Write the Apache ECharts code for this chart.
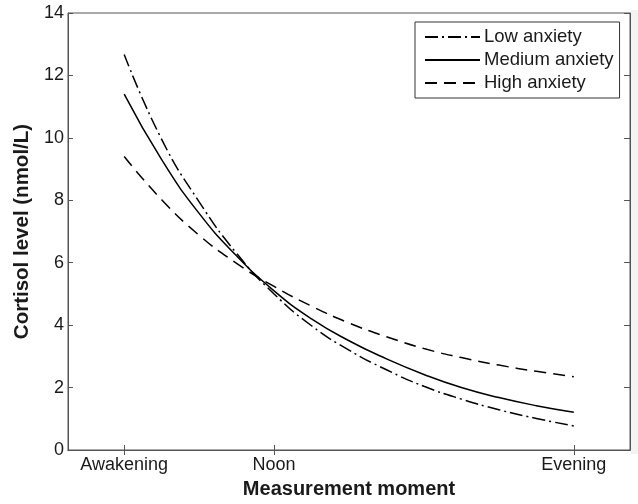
<!DOCTYPE html>
<html>
<head>
<meta charset="utf-8">
<script src="https://cdn.jsdelivr.net/npm/echarts@6/dist/echarts.min.js"></script>
<style>
  html, body { margin: 0; padding: 0; background: #fff; }
  #chart { width: 638px; height: 504px; }
</style>
</head>
<body>
<div id="chart"></div>
<script>
(function() {
  var myChart = echarts.init(document.getElementById('chart'));

  // hours of the day, awakening = 8, noon = 12, evening = 20
  var hours = [8, 9, 10, 11, 12, 13, 14, 15, 16, 17, 18, 19, 20];
  var lowAnxiety    = [12.67, 9.95, 7.95, 6.30, 5.00, 3.98, 3.20, 2.57, 2.04, 1.63, 1.29, 1.01, 0.77];
  var mediumAnxiety = [11.40, 9.30, 7.58, 6.22, 5.10, 4.20, 3.50, 2.92, 2.42, 2.00, 1.68, 1.42, 1.21];
  var highAnxiety   = [9.40, 8.02, 6.88, 5.98, 5.24, 4.61, 4.07, 3.63, 3.25, 2.96, 2.72, 2.52, 2.35];

  var xTickValues = [8, 12, 20];
  var xTickLabels = ['Awakening', 'Noon', 'Evening'];
  var yTicks = [0, 2, 4, 6, 8, 10, 12, 14];

  function pairs(vals) {
    return hours.map(function(h, i) { return [h, vals[i]]; });
  }

  var axisColor = '#555';
  var textColor = '#1a1a1a';
  var font = 'Liberation Sans, Arial, Helvetica, sans-serif';

  function lineSeries(name, vals, type) {
    return {
      name: name,
      type: 'line',
      data: pairs(vals),
      smooth: true,
      symbol: 'none',
      lineStyle: { color: '#000', width: 1.5, type: type },
      itemStyle: { color: '#000' }
    };
  }

  var option = {
    backgroundColor: '#fff',
    animation: false,
    textStyle: { fontFamily: font },
    grid: {
      left: 68, right: 8, top: 13, bottom: 50,
      show: true, borderColor: axisColor, borderWidth: 1
    },
    graphic: [{
      // faint grey strip at the right edge of the scan
      type: 'rect',
      shape: { x: 631, y: 10, width: 7, height: 444 },
      style: { fill: '#f3f3f3' },
      silent: true
    }],
    legend: {
      orient: 'vertical',
      left: 415, top: 22,
      padding: [5, 6, 5, 9],
      itemGap: 3,
      itemWidth: 55, itemHeight: 14,
      borderColor: '#333', borderWidth: 1,
      backgroundColor: '#fff',
      itemStyle: { opacity: 0 },
      textStyle: { fontSize: 18.5, lineHeight: 20, color: textColor, fontFamily: font, padding: [0, 0, 0, -1] },
      data: ['Low anxiety', 'Medium anxiety', 'High anxiety']
    },
    xAxis: [{
      type: 'value',
      min: 6.5, max: 21.5,
      name: 'Measurement moment',
      nameLocation: 'middle',
      nameGap: 29,
      nameTextStyle: { fontSize: 20, fontWeight: 'bold', color: textColor },
      axisLine: { show: true, lineStyle: { color: axisColor } },
      axisTick: { show: true, inside: true, length: 5, customValues: xTickValues, lineStyle: { color: axisColor } },
      axisLabel: {
        show: true, fontSize: 18, color: textColor, margin: 6,
        customValues: xTickValues,
        formatter: function(v) {
          var i = xTickValues.indexOf(v);
          return i >= 0 ? xTickLabels[i] : '';
        }
      },
      splitLine: { show: false }
    }, {
      type: 'value',
      position: 'top',
      min: 6.5, max: 21.5,
      axisLine: { show: true, lineStyle: { color: axisColor } },
      axisTick: { show: true, inside: true, length: 5, customValues: xTickValues, lineStyle: { color: axisColor } },
      axisLabel: { show: false },
      splitLine: { show: false }
    }],
    yAxis: [{
      type: 'value',
      min: 0, max: 14, interval: 2,
      name: 'Cortisol level (nmol/L)',
      nameLocation: 'middle',
      nameGap: 26,
      nameTextStyle: { fontSize: 20.5, fontWeight: 'bold', color: textColor },
      axisLine: { show: true, lineStyle: { color: axisColor } },
      axisTick: { show: true, inside: true, length: 5, lineStyle: { color: axisColor } },
      axisLabel: {
        fontSize: 18, color: textColor, margin: 4,
        customValues: yTicks
      },
      splitLine: { show: false }
    }, {
      type: 'value',
      position: 'right',
      min: 0, max: 14, interval: 2,
      axisLine: { show: true, lineStyle: { color: axisColor } },
      axisTick: { show: true, inside: true, length: 6, lineStyle: { color: axisColor } },
      axisLabel: { show: false },
      splitLine: { show: false }
    }],
    series: [
      lineSeries('Low anxiety', lowAnxiety, [13, 4, 2, 4]),
      lineSeries('Medium anxiety', mediumAnxiety, 'solid'),
      lineSeries('High anxiety', highAnxiety, [12, 7])
    ]
  };

  myChart.setOption(option);
  window.addEventListener('resize', function() {
    myChart.resize();
  });
})();
</script>
</body>
</html>
